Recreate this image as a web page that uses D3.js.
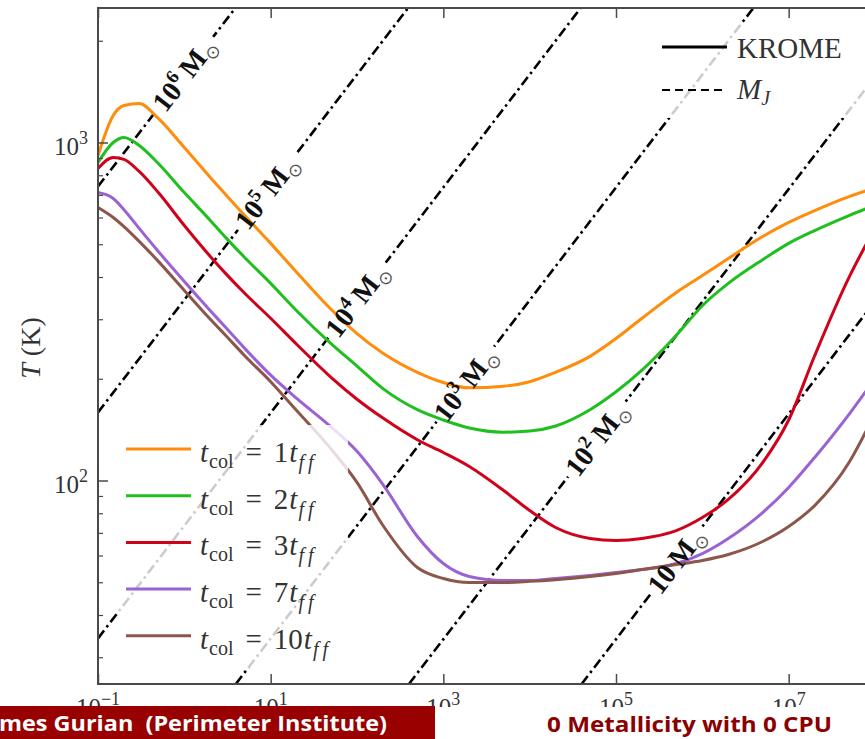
<!DOCTYPE html>
<html>
<head>
<meta charset="utf-8">
<script src="https://cdn.jsdelivr.net/npm/d3@7"></script>
<style>
  body { margin: 0; background: #fff; }
  svg { display: block; }
  text { font-family: "Liberation Serif", "DejaVu Serif", serif; }
  .footer { font-family: "Open Sans", "DejaVu Sans", sans-serif; font-weight: 700; white-space: pre; }
</style>
</head>
<body>
<svg id="chart" width="865" height="739"></svg>
<script>
// number density n (cm^-3) where temperatures were read
const density = [0.1, 0.15, 0.2, 0.3, 0.5, 1, 2, 3, 5, 10, 20, 50, 100, 200, 500,
  1e3, 2e3, 5e3, 1e4, 2e4, 5e4, 1e5, 2e5, 5e5, 1e6, 2e6, 5e6, 1e7, 2e7, 5e7, 8e7];

// temperature (K) for each collapse time
const tempCol1 = [915, 1202, 1287, 1305, 1178, 966, 788, 702, 608, 503, 413, 321, 272, 238, 209,
  195, 188, 190, 196, 209, 233, 263, 302, 360, 404, 454, 527, 580, 629, 692, 721];
const tempCol2 = [873, 1000, 1035, 980, 867, 711, 588, 524, 457, 383, 318, 254, 218, 187, 162,
  151, 143, 139, 140, 145, 162, 183, 212, 269, 329, 383, 450, 503, 549, 608, 638];
const tempCol3 = [838, 903, 891, 821, 711, 568, 460, 410, 358, 302, 253, 202, 174, 153, 132,
  121, 110, 93.4, 81.5, 72.6, 67.4, 66.5, 67.4, 71.1, 77.7, 87.9, 113, 151, 234, 399, 503];
const tempCol7 = [711, 683, 633, 557, 476, 388, 318, 284, 246, 205, 175, 144, 122, 97.3, 68.3,
  56.8, 52.0, 50.6, 50.6, 51.3, 52.4, 53.4, 54.5, 56.8, 60.8, 67.4, 80.4, 95.4, 117, 157, 185];
const tempCol10 = [642, 600, 564, 510, 445, 365, 300, 269, 234, 196, 161, 124, 98.7, 73.6, 55.3,
  51.3, 49.9, 49.9, 50.3, 50.9, 52.0, 53.1, 54.5, 56.4, 58.0, 60.4, 66.0, 73.1, 84.3, 113, 141];

const collapseTimes = ["1", "2", "3", "7", "10"];
const seriesColors = ["#ff8c0a", "#1fbf1f", "#d0021b", "#9a62d2", "#8c564b"];

// Jeans mass lines: exponent of M_sun and two end points [n, T]
const jeansExp = ["6", "5", "4", "3", "2", "1"];
const jeansEnds = [
  [[0.1, 741], [3.9, 2500]],
  [[0.1, 159], [390, 2500]],
  [[0.1, 34.1], [3.9e4, 2500]],
  [[3.95, 25], [3.9e6, 2500]],
  [[400, 25], [1e8, 1567]],
  [[4.0e4, 25], [1e8, 339]]
];
// density at which each inline label sits
const jeansLabelAt = [1, 9, 100, 1800, 6e4, 5e5];

const xTickExp = [-1, 1, 3, 5, 7];
const yTickExp = [2, 3];

const W = 865, H = 739;
const svg = d3.select("#chart");

const x = d3.scaleLog().domain([0.1, 1e8]).range([98, 875]);
const y = d3.scaleLog().domain([25, 2500]).range([684, 8]);
const [x0, x1] = x.range();
const [y0, y1] = y.range();

const defs = svg.append("defs");
defs.append("clipPath").attr("id", "plot-clip")
  .append("rect").attr("x", x0).attr("y", y1).attr("width", x1 - x0).attr("height", y0 - y1);
defs.append("clipPath").attr("id", "fig-clip")
  .append("rect").attr("x", 0).attr("y", 0).attr("width", W).attr("height", 707);
const mask = defs.append("mask").attr("id", "label-gaps")
  .attr("maskUnits", "userSpaceOnUse")
  .attr("x", 0).attr("y", 0).attr("width", W).attr("height", H);
mask.append("rect").attr("width", W).attr("height", H).attr("fill", "white");

const fig = svg.append("g").attr("clip-path", "url(#fig-clip)");
const plot = fig.append("g").attr("clip-path", "url(#plot-clip)");

// Jeans mass lines (dash-dot), broken where the labels sit
const jeansG = plot.append("g").attr("mask", "url(#label-gaps)");
jeansG.selectAll("line")
  .data(jeansEnds)
  .join("line")
  .attr("x1", d => x(d[0][0])).attr("y1", d => y(d[0][1]))
  .attr("x2", d => x(d[1][0])).attr("y2", d => y(d[1][1]))
  .attr("stroke", "#000")
  .attr("stroke-width", 2.6)
  .attr("stroke-dasharray", "10,4,2.5,4");

// KROME curves
const line = d3.line()
  .x((d, i) => x(density[i]))
  .y(d => y(d))
  .curve(d3.curveMonotoneX);

const temps = [tempCol1, tempCol2, tempCol3, tempCol7, tempCol10];
plot.append("g").selectAll("path")
  .data(temps)
  .join("path")
  .attr("fill", "none")
  .attr("stroke", (d, i) => seriesColors[i])
  .attr("stroke-width", 3)
  .attr("stroke-linejoin", "round")
  .attr("d", line);

// inline mass labels
const labelG = fig.append("g");
jeansEnds.forEach((ends, i) => {
  const px0 = x(ends[0][0]), py0 = y(ends[0][1]);
  const px1 = x(ends[1][0]), py1 = y(ends[1][1]);
  const angle = Math.atan2(py1 - py0, px1 - px0) * 180 / Math.PI;
  const lx = x(jeansLabelAt[i]);
  const ly = py0 + (lx - px0) / (px1 - px0) * (py1 - py0);
  const tf = `translate(${lx},${ly}) rotate(${angle})`;

  const t = labelG.append("text")
    .attr("transform", tf)
    .attr("text-anchor", "middle")
    .attr("dy", "0.33em")
    .attr("font-size", 28)
    .attr("font-weight", "bold")
    .attr("fill", "#111");
  t.append("tspan").text("10");
  if (jeansExp[i] !== "1") {
    t.append("tspan").attr("dy", -11).attr("font-size", 19).text(jeansExp[i]);
    t.append("tspan").attr("dy", 11).text("\u2009M");
  } else {
    t.append("tspan").text("\u2009M");
  }
  t.append("tspan").attr("dy", 6).attr("font-size", 18).attr("font-weight", "normal")
    .attr("fill", "#555").attr("font-family", "DejaVu Sans").text("\u2299");

  const len = t.node().getComputedTextLength();
  mask.append("rect")
    .attr("transform", tf)
    .attr("x", -len / 2 - 5).attr("y", -8)
    .attr("width", len + 10).attr("height", 16)
    .attr("fill", "black");
});

// axes
const axisCol = "#4a4a4a";
const axG = fig.append("g");
axG.append("path")
  .attr("d", `M${x1},${y1}H${x0}V${y0}H${x1}`)
  .attr("fill", "none").attr("stroke", axisCol).attr("stroke-width", 2);

const xTickVals = xTickExp.map(e => Math.pow(10, e));
axG.append("g").attr("transform", `translate(0,${y0})`)
  .call(d3.axisTop(x).tickValues(xTickVals).tickSize(10).tickFormat(""))
  .call(g => g.select(".domain").remove())
  .call(g => g.selectAll("line").attr("stroke", axisCol).attr("stroke-width", 1.5));
axG.append("g").attr("transform", `translate(0,${y1})`)
  .call(d3.axisBottom(x).tickValues(xTickVals).tickSize(10).tickFormat(""))
  .call(g => g.select(".domain").remove())
  .call(g => g.selectAll("line").attr("stroke", axisCol).attr("stroke-width", 1.5));

const yMajor = yTickExp.map(e => Math.pow(10, e));
const yMinor = [];
[10, 100, 1000].forEach(dec => d3.range(2, 10).forEach(k => {
  const v = dec * k;
  if (v >= 25 && v <= 2500) yMinor.push(v);
}));
axG.append("g").attr("transform", `translate(${x0},0)`)
  .call(d3.axisRight(y).tickValues(yMajor).tickSize(10).tickFormat(""))
  .call(g => g.select(".domain").remove())
  .call(g => g.selectAll("line").attr("stroke", axisCol).attr("stroke-width", 1.5));
axG.append("g").attr("transform", `translate(${x0},0)`)
  .call(d3.axisRight(y).tickValues(yMinor).tickSize(5).tickFormat(""))
  .call(g => g.select(".domain").remove())
  .call(g => g.selectAll("line").attr("stroke", axisCol).attr("stroke-width", 1.2));

function powerLabel(sel, exp) {
  sel.append("tspan").text("10");
  sel.append("tspan").attr("dy", -11).attr("font-size", 18).text(exp.replace("-", "\u2212"));
}

xTickExp.forEach(e => {
  const t = fig.append("text")
    .attr("x", x(Math.pow(10, e))).attr("y", 716)
    .attr("text-anchor", "middle").attr("font-size", 25).attr("fill", "#333");
  powerLabel(t, String(e));
});
yTickExp.forEach(e => {
  const t = fig.append("text")
    .attr("x", 88).attr("y", y(Math.pow(10, e)) + 12)
    .attr("text-anchor", "end").attr("font-size", 25).attr("fill", "#333");
  powerLabel(t, String(e));
});

const yTitle = fig.append("text")
  .attr("transform", "translate(40,348) rotate(-90)")
  .attr("text-anchor", "middle").attr("font-size", 28).attr("fill", "#333");
yTitle.append("tspan").attr("font-style", "italic").text("T");
yTitle.append("tspan").text(" (K)");

// legend: collapse times
const legA = fig.append("g");
legA.append("rect")
  .attr("x", 118).attr("y", 425).attr("width", 230).attr("height", 243).attr("rx", 4)
  .attr("fill", "#fff").attr("fill-opacity", 0.8);
collapseTimes.forEach((c, i) => {
  const ly = 449 + i * 46.7;
  legA.append("line")
    .attr("x1", 126).attr("x2", 191).attr("y1", ly).attr("y2", ly)
    .attr("stroke", seriesColors[i]).attr("stroke-width", 3);
  const t = legA.append("text").attr("x", 200).attr("y", ly + 13)
    .attr("font-size", 29).attr("fill", "#333");
  t.append("tspan").attr("font-style", "italic").text("t");
  t.append("tspan").attr("dy", 6).attr("dx", 1).attr("font-size", 20).text("col");
  t.append("tspan").attr("dy", -6).attr("dx", 12).text("=");
  t.append("tspan").attr("dx", 12).text(c);
  t.append("tspan").attr("dx", 1).attr("font-style", "italic").text("t");
  t.append("tspan").attr("dy", 7).attr("dx", 1).attr("font-size", 20).attr("font-style", "italic").text("f\u2009f");
});

// legend: line styles
const legB = fig.append("g");
legB.append("rect")
  .attr("x", 653).attr("y", 24).attr("width", 225).attr("height", 94).attr("rx", 4)
  .attr("fill", "#fff").attr("fill-opacity", 0.8);
legB.append("line").attr("x1", 662).attr("x2", 727).attr("y1", 47).attr("y2", 47)
  .attr("stroke", "#000").attr("stroke-width", 3);
legB.append("line").attr("x1", 662).attr("x2", 727).attr("y1", 90).attr("y2", 90)
  .attr("stroke", "#000").attr("stroke-width", 2.2).attr("stroke-dasharray", "8,5");
legB.append("text").attr("x", 737).attr("y", 58).attr("font-size", 29).attr("fill", "#333").text("KROME");
const mj = legB.append("text").attr("x", 737).attr("y", 99).attr("font-size", 29).attr("fill", "#333");
mj.append("tspan").attr("font-style", "italic").text("M");
mj.append("tspan").attr("dy", 6).attr("font-size", 20).attr("font-style", "italic").text("J");

// slide footer
svg.append("rect").attr("x", 0).attr("y", 706).attr("width", 435).attr("height", 33).attr("fill", "#990000");
svg.append("text").attr("class", "footer")
  .attr("x", -1).attr("y", 731).attr("font-size", 22).attr("fill", "#fff")
  .attr("textLength", 388).attr("lengthAdjust", "spacingAndGlyphs")
  .text("mes Gurian  (Perimeter Institute)");
svg.append("text").attr("class", "footer")
  .attr("x", 547).attr("y", 732).attr("font-size", 22).attr("fill", "#8b0000")
  .attr("textLength", 285).attr("lengthAdjust", "spacingAndGlyphs")
  .text("0 Metallicity with 0 CPU");
</script>
</body>
</html>
